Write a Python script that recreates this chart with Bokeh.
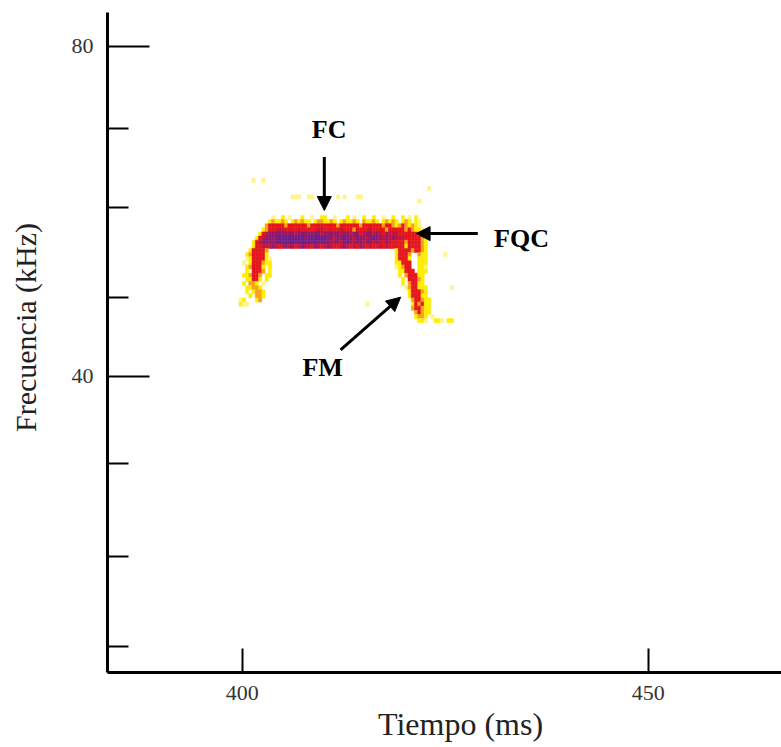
from bokeh.plotting import figure
from bokeh.models import Range1d, FixedTicker, Arrow, NormalHead, Label, ColumnDataSource
from bokeh.embed import file_html
from bokeh.resources import INLINE

# ---------------- data ----------------
TIME_TICKS = [400, 450]
FREQ_MAJOR = [40, 80]
FREQ_MINOR = [70, 60.5, 49.6, 29.4, 18.2, 7.3]

X_TITLE = "Tiempo (ms)"
Y_TITLE = "Frecuencia (kHz)"

# spectrogram grid: column c -> time T0 + DT*(c+0.5) ms, row r -> freq F_TOP - DF*(r+0.5) kHz
T0 = 399.6
DT = 0.4
F_TOP = 64.0
DF = 0.5

SPEC_ROWS = [
    "....l..l",
    "",
    "." * 58 + "l",
    "",
    "." * 16 + "lll..ll.......l.l...ll",
    "." * 55 + "l",
    "",
    "",
    "",
    "." * 10 + "l..y.l...y..l..yy..l...y.l..y..y..l..y..y.l.y",
    "." * 9 + "yoyyoy.yoyoyy.yooyyoy.yoyyoy.oyyoy.yoyoy.yoy.yl",
    "." * 8 + "o" + "rrrrrorrrrrrorrrrrrrrorrrrrrorrrrrrorr" + "oyoroyoyl",
    "." * 7 + "yo" + "rrrccrrrrcrrrrrccrrrrrcrrrorrrrcrrrrorrrr" + "roroyyl",
    "." * 6 + "yrc" + "mmmmmmmmcmmmmmmmcmmmmm" + "cmmcmmrcmmcmcrmcc" + "c" + "rrrrr" + "rooy",
    "." * 5 + "yrc" + "mmmm" + "ppppppppmpppppp" + "mmcmmpmmcmmmcmpmmcmcm" + "ccc" + "rrrrr" + "oy",
    "." * 4 + "yrc" + "mmmmm" + "ppppppppppppmpp" + "mcmmcmpmcmmcmmcmcrmc" + "rrrr" + "o" + "rrrr" + "oy",
    "." * 4 + "yrrcc" + "cmcrcmcmrcmccrmcrcmcrrcmcrcrmcrcrrcrc" + "rrrrr" + "y" + "rrrr" + "oy",
    "." * 3 + "yrrrro" + "." * 39 + "yrrrrorroy",
    "." * 2 + "yorrrry" + "." * 39 + "yrrro..oyy" + "." * 5 + "l",
    "." * 2 + "lyrrrryl" + "." * 38 + "yrrry..yyy",
    "." + "l.yrrroyy" + "." * 38 + "yyrrr..yyy",
    "." * 2 + "yorrry.y" + "." * 38 + "lyorr..yyl",
    "." * 2 + "y.rrro.y" + "." * 39 + "yyrrr.yyy",
    "." + "yyorro.yy" + "." * 39 + "y.orrryy",
    "." * 2 + "yyrry.y" + "." * 41 + "y.rrroy",
    "." + "y.ooy.l" + "." * 42 + "y.orryy",
    "." * 2 + "yyooy" + "." * 44 + "lorryyy" + "." * 7 + "l",
    "." * 2 + "y.yooy" + "." * 44 + "yrrroy",
    "." * 3 + "y.ooy" + "." * 44 + "yrrryy",
    "ly" + "..." + "yo" + "." * 46 + "orroyy",
    "yll" + "." * 36 + "l" + "." * 13 + "yroryy",
    "." * 53 + "orroyy",
    "." * 54 + "oroyy",
    "." * 54 + "yooy.l",
    "." * 55 + "yyl..yyl.yy",
    "",
]

PALETTE = {
    "l": "#FFF38A",
    "y": "#FFEE00",
    "o": "#F7A11A",
    "r": "#E5161C",
    "c": "#C4143E",
    "m": "#901B6C",
    "p": "#701E88",
}

ANNOT_TEXT = ["FC", "FQC", "FM"]
ANNOT_X = [410.7, 431.0, 409.9]
ANNOT_Y = [69.9, 56.7, 41.1]
ANNOT_ALIGN = ["center", "left", "center"]

ARROW_X0 = [410.1, 429.0, 412.1]
ARROW_Y0 = [66.6, 57.3, 43.2]
ARROW_X1 = [410.1, 421.4, 419.5]
ARROW_Y1 = [60.1, 57.3, 49.6]

# ---------------- build cells ----------------
xs, ys, cols = [], [], []
for r, row in enumerate(SPEC_ROWS):
    for c, ch in enumerate(row):
        if ch in PALETTE:
            xs.append(T0 + DT * (c + 0.5))
            ys.append(F_TOP - DF * (r + 0.5))
            cols.append(PALETTE[ch])
src = ColumnDataSource(dict(x=xs, y=ys, color=cols))

p = figure(width=781, height=747, output_backend="svg", toolbar_location=None,
           x_range=Range1d(383.4, 466.4), y_range=Range1d(4.1, 84.1),
           min_border_left=107, min_border_bottom=75, min_border_top=12,
           min_border_right=0)
p.outline_line_color = None
p.grid.visible = False
p.background_fill_color = "white"
p.border_fill_color = "white"

p.rect(x="x", y="y", width=DT, height=DF, source=src,
       fill_color="color", line_color="color", line_width=0.5)

for i in range(len(ARROW_X0)):
    p.add_layout(Arrow(end=NormalHead(size=14, fill_color="black", line_color="black", line_width=1),
                       x_start=ARROW_X0[i], y_start=ARROW_Y0[i],
                       x_end=ARROW_X1[i], y_end=ARROW_Y1[i],
                       line_width=3, line_color="black"))

for i in range(len(ANNOT_TEXT)):
    p.add_layout(Label(x=ANNOT_X[i], y=ANNOT_Y[i], text=ANNOT_TEXT[i],
                       text_font="Liberation Serif", text_font_style="bold",
                       text_font_size="26px", text_color="black",
                       text_align=ANNOT_ALIGN[i], text_baseline="middle"))

# axes
for ax in (p.xaxis[0], p.yaxis[0]):
    ax.axis_line_width = 3
    ax.axis_line_color = "black"
    ax.major_tick_line_width = 2
    ax.minor_tick_line_width = 2
    ax.major_tick_line_color = "black"
    ax.minor_tick_line_color = "black"
    ax.major_tick_out = 0
    ax.minor_tick_out = 0
    ax.major_label_text_font = "Liberation Serif"
    ax.major_label_text_font_size = "22px"
    ax.major_label_text_color = "#333333"
    ax.axis_label_text_font = "Liberation Serif"
    ax.axis_label_text_font_style = "normal"
    ax.axis_label_text_color = "#222222"

NB = "\u00a0"  # leading non-breaking spaces nudge the centred titles like the reference

p.xaxis.ticker = FixedTicker(ticks=TIME_TICKS)
p.xaxis.major_tick_in = 24
p.xaxis.minor_tick_in = 0
p.xaxis.major_label_standoff = 13
p.xaxis.axis_label = NB * 4 + X_TITLE
p.xaxis.axis_label_text_font_size = "32px"
p.xaxis.axis_label_standoff = 3

p.yaxis.ticker = FixedTicker(ticks=FREQ_MAJOR, minor_ticks=FREQ_MINOR)
p.yaxis.major_tick_in = 42
p.yaxis.minor_tick_in = 21
p.yaxis.major_label_standoff = 14
p.yaxis.axis_label = NB * 4 + Y_TITLE
p.yaxis.axis_label_text_font_size = "30px"
p.yaxis.axis_label_standoff = 27

open("out.html", "w").write(file_html(p, INLINE))
